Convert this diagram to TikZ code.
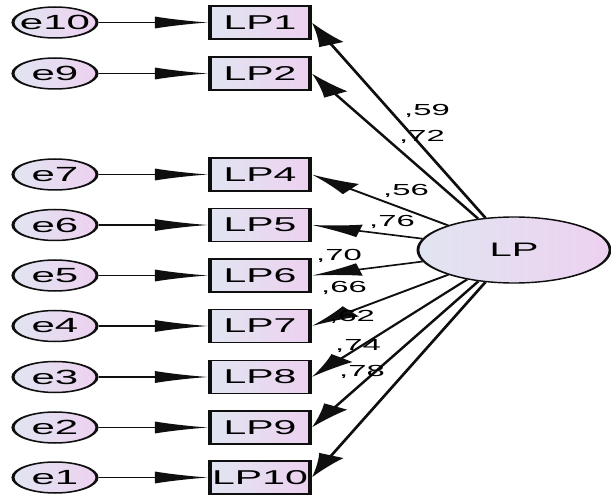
\documentclass[tikz,border=0pt]{standalone}
\usepackage{fontspec}
\setmainfont{Liberation Sans}
\usetikzlibrary{arrows.meta,shapes.geometric}
\definecolor{fillA}{RGB}{225,229,241}
\definecolor{fillB}{RGB}{237,209,240}
\definecolor{edgec}{RGB}{15,15,15}
\newcommand{\ctxt}[1]{\makebox[0pt]{#1}}
\begin{document}
\begin{tikzpicture}
\useasboundingbox (0,0) rectangle (611pt,-497pt);
\begin{scope}[x=0.487805pt,y=-1pt,transform canvas={xscale=2.05},
  errnode/.style={ellipse, draw=edgec, line width=1.5pt, minimum width=41pt, minimum height=31pt, inner sep=0pt, left color=fillA, right color=fillB, font=\fontsize{20.5}{20.5}\selectfont},
  obsbox/.style={rectangle, draw=edgec, line width=1.7pt, minimum width=48.8pt, minimum height=33pt, inner sep=0pt, left color=fillA, right color=fillB, font=\fontsize{20}{20}\selectfont},
  latent/.style={ellipse, draw=edgec, line width=1.4pt, minimum width=93.7pt, minimum height=66pt, inner sep=0pt, left color=fillA, right color=fillB, font=\fontsize{19.5}{19.5}\selectfont},
  errarrow/.style={-{Latex[length=26pt,width=12pt]}, line width=1.4pt, draw=edgec},
  loadarrow/.style={-{Latex[length=24pt,width=13pt]}, line width=1.6pt, draw=edgec},
  coef/.style={anchor=base, inner sep=0pt, font=\fontsize{16}{16}\selectfont}]

\node[latent] (LP) at (514,250) {\ctxt{LP}};

\node[obsbox] (LP1) at (260,22.5) {\ctxt{LP1}};
\node[obsbox] (LP2) at (260,73.5) {\ctxt{LP2}};
\node[obsbox] (LP4) at (260,174.5) {\ctxt{LP4}};
\node[obsbox] (LP5) at (260,225) {\ctxt{LP5}};
\node[obsbox] (LP6) at (260,275.5) {\ctxt{LP6}};
\node[obsbox] (LP7) at (260,326) {\ctxt{LP7}};
\node[obsbox] (LP8) at (260,377) {\ctxt{LP8}};
\node[obsbox] (LP9) at (260,427.5) {\ctxt{LP9}};
\node[obsbox] (LP10) at (260,477.5) {\ctxt{LP10}};

\node[errnode] (e10) at (55,22.5) {\ctxt{e10}};
\node[errnode] (e9) at (55,73.5) {\ctxt{e9}};
\node[errnode] (e7) at (55,174.5) {\ctxt{e7}};
\node[errnode] (e6) at (55,225) {\ctxt{e6}};
\node[errnode] (e5) at (55,275.5) {\ctxt{e5}};
\node[errnode] (e4) at (55,326) {\ctxt{e4}};
\node[errnode] (e3) at (55,377) {\ctxt{e3}};
\node[errnode] (e2) at (55,427.5) {\ctxt{e2}};
\node[errnode] (e1) at (55,477.5) {\ctxt{e1}};

\draw[errarrow] (e10) -- (LP1);
\draw[errarrow] (e9) -- (LP2);
\draw[errarrow] (e7) -- (LP4);
\draw[errarrow] (e6) -- (LP5);
\draw[errarrow] (e5) -- (LP6);
\draw[errarrow] (e4) -- (LP7);
\draw[errarrow] (e3) -- (LP8);
\draw[errarrow] (e2) -- (LP9);
\draw[errarrow] (e1) -- (LP10);

\draw[loadarrow] (LP) -- (LP1.east);
\draw[loadarrow] (LP) -- (LP2.east);
\draw[loadarrow] (LP) -- (LP4.east);
\draw[loadarrow] (LP) -- (LP5.east);
\draw[loadarrow] (LP) -- (LP6.east);
\draw[loadarrow] (LP) -- (LP7.east);
\draw[loadarrow] (LP) -- (LP8.east);
\draw[loadarrow] (LP) -- (LP9.east);
\draw[loadarrow] (LP) -- (LP10.east);

\node[coef] (c59) at (427,116) {,59};
\node[coef] (c72) at (422,142) {,72};
\node[coef] (c56) at (406,196) {,56};
\node[coef] (c76) at (392,227) {,76};
\node[coef] (c70) at (339,261) {,70};
\node[coef] (c66) at (344,293) {,66};
\node[coef] (c62) at (352,322) {,62};
\node[coef] (c74) at (358,350) {,74};
\node[coef] (c78) at (362,377) {,78};
\end{scope}
\end{tikzpicture}
\end{document}
